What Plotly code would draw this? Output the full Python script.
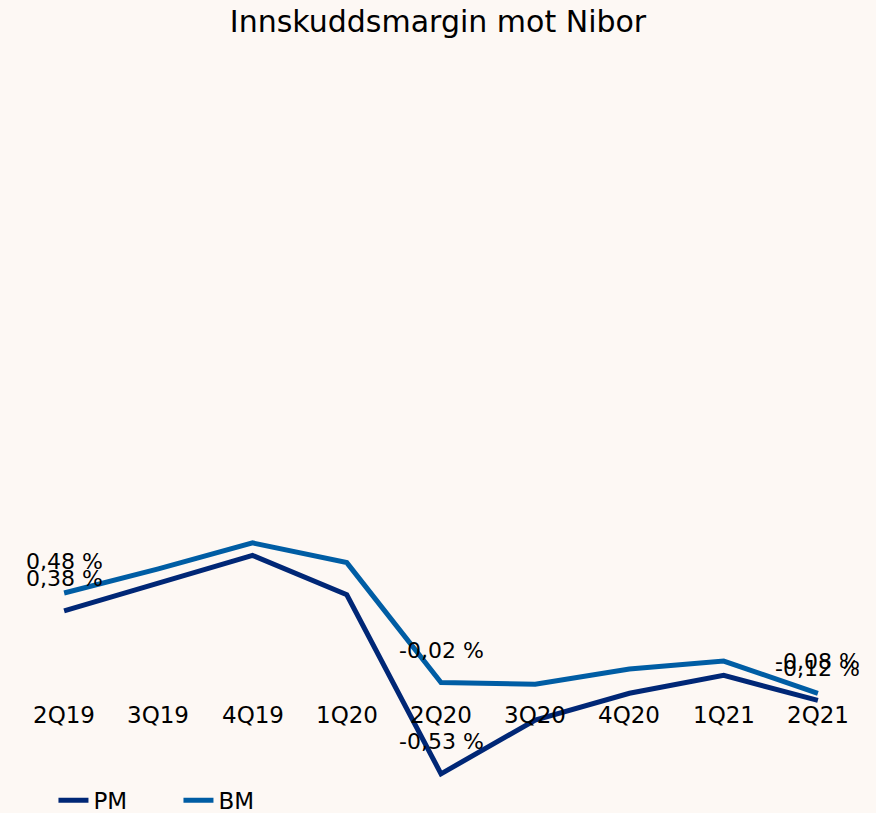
import plotly.graph_objects as go

categories = ["2Q19", "3Q19", "4Q19", "1Q20", "2Q20", "3Q20", "4Q20", "1Q21", "2Q21"]
pm_values = [0.38, 0.535, 0.69, 0.47, -0.53, -0.23, -0.08, 0.02, -0.12]
bm_values = [0.48, 0.615, 0.76, 0.65, -0.02, -0.03, 0.056, 0.10, -0.08]
label_idx = [0, 4, 8]

PM_COLOR = "#002776"
BM_COLOR = "#005DA4"
BG = "#FDF8F4"
FONT = "DejaVu Sans"

def fmt(v):
    return f"{v:.2f}".replace(".", ",") + " %"

fig = go.Figure()
fig.add_trace(go.Scatter(x=categories, y=pm_values, mode="lines", name="PM",
                         line=dict(color=PM_COLOR, width=5)))
fig.add_trace(go.Scatter(x=categories, y=bm_values, mode="lines", name="BM",
                         line=dict(color=BM_COLOR, width=5)))

annotations = []
for i in label_idx:
    for vals in (pm_values, bm_values):
        annotations.append(dict(x=categories[i], y=vals[i], text=fmt(vals[i]),
                                showarrow=False, yshift=32,
                                font=dict(family=FONT, size=22, color="#000000")))
for c in categories:
    annotations.append(dict(x=c, y=0, text=c, showarrow=False, yshift=-36,
                            font=dict(family=FONT, size=23, color="#000000")))

fig.update_layout(
    width=876, height=813,
    paper_bgcolor=BG, plot_bgcolor=BG,
    margin=dict(l=17, r=11, t=60, b=0, autoexpand=False),
    title=dict(text="Innskuddsmargin mot Nibor", x=0.5, xanchor="center",
               y=0.973, yanchor="middle",
               font=dict(family=FONT, size=30, color="#000000")),
    xaxis=dict(type="category", range=[-0.5, 8.5], showgrid=False, zeroline=False,
               showticklabels=False, showline=False, ticks=""),
    yaxis=dict(range=[-0.749, 3.458], showgrid=False, zeroline=False,
               showticklabels=False, showline=False, ticks=""),
    showlegend=True,
    legend=dict(orientation="h", x=0.043, xanchor="left", y=0.017, yanchor="middle",
                font=dict(family=FONT, size=23, color="#000000"),
                bgcolor="rgba(0,0,0,0)", entrywidth=80),
    annotations=annotations,
)

fig.write_html("out.html", config={"displayModeBar": False},
               post_script="document.body.style.margin='0';document.body.style.background='#FDF8F4';document.body.style.overflow='hidden';")
